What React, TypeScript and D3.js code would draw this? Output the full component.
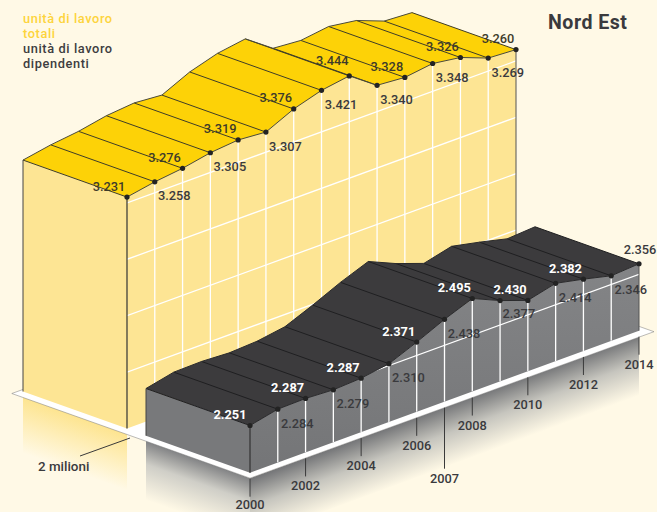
import React from "react";
import * as d3 from "d3";

const years = d3.range(2000, 2015);
const totalUnits = [3231, 3258, 3276, 3305, 3319, 3307, 3376, 3421, 3444, 3340, 3328, 3348, 3326, 3269, 3260];
const employeeUnits = [2251, 2284, 2287, 2279, 2287, 2310, 2371, 2438, 2495, 2430, 2377, 2414, 2382, 2346, 2356];
const tickYears = [2000, 2002, 2004, 2006, 2007, 2008, 2010, 2012, 2014];
const gridLevelsTotal = [2300, 2600, 2900, 3200];
const gridLevelsEmployee = [2300];
const legendLines = [
  { text: "unità di lavoro", color: "#fdd43c" },
  { text: "totali", color: "#fdd43c" },
  { text: "unità di lavoro", color: "#3d3d40" },
  { text: "dipendenti", color: "#3d3d40" },
];

const FONT = "Roboto, sans-serif";
const BG = "#fff9e6";
const INK = "#3a3a3d";

const xScale = d3.scaleLinear().domain([2000, 2014]).range([0, 389]);
const floorScale = d3.scaleLinear().domain([2000, 2014]).range([0, -142]);
const heightScale = d3.scaleLinear().domain([2000, 3500]).range([0, -282]);
const DEPTH: [number, number] = [-104, -37];

type P = [number, number];
const makeProject = (ox: number, oy: number) => (year: number, value: number, back = 0): P => [
  ox + xScale(year) + DEPTH[0] * back,
  oy + floorScale(year) + heightScale(value) + DEPTH[1] * back,
];
const projYellow = makeProject(127, 428.5);
const projDark = makeProject(250, 472.7);
const pts = (p: P[]) => p.map((q) => q.map((n) => n.toFixed(1)).join(",")).join(" ");
const lineGen = d3.line<P>();

const fmt = (v: number) => (v / 1000).toFixed(3);

function Block({
  id, values, project, top, side, front, gridLevels, lineColor, crossColor, labelColor, upperColor, upperWeight, offsets, plainUpper,
}: any) {
  const F = values.map((v: number, i: number) => project(years[i], v));
  const B = values.map((v: number, i: number) => project(years[i], v, 1));
  const b0 = project(2000, 2000);
  const b14 = project(2014, 2000);
  const bb = project(2000, 2000, 1);
  const facePoly: P[] = [...F, b14, b0];
  return (
    <g>
      <clipPath id={id}><polygon points={pts(facePoly)} /></clipPath>
      <polygon points={pts([B[0], F[0], b0, bb])} fill={front} />
      <polygon points={pts(facePoly)} fill={side} />
      <g clipPath={`url(#${id})`}>
        {gridLevels.map((g: number) => (
          <path key={g} d={lineGen([project(2000, g), project(2014, g)])!} stroke="#fff" strokeWidth={1.3} fill="none" />
        ))}
        {years.slice(1, -1).map((y) => (
          <path key={y} d={lineGen([project(y, 2000), project(y, 3600)])!} stroke="#fff" strokeWidth={1.3} fill="none" />
        ))}
      </g>
      <polygon points={pts([...F, ...[...B].reverse()])} fill={top} />
      {F.map((p: P, i: number) => (
        <path key={i} d={lineGen([p, B[i]])!} stroke={crossColor} strokeWidth={1} fill="none" />
      ))}
      <path d={lineGen(F)!} stroke={lineColor} strokeWidth={1} fill="none" />
      <path d={lineGen(B)!} stroke={lineColor} strokeWidth={1} fill="none" />
      <path d={lineGen([B[0], bb])!} stroke="#444" strokeWidth={1} fill="none" />
      <path d={lineGen([F[0], b0])!} stroke="#333" strokeWidth={1.2} fill="none" />
      <path d={lineGen([F[14], b14])!} stroke="#555" strokeWidth={1} fill="none" />
      {F.map((p: P, i: number) => (
        <circle key={i} cx={p[0]} cy={p[1]} r={2.6} fill="#232323" />
      ))}
      {F.map((p: P, i: number) => {
        const y = years[i];
        const o = offsets[y] || (y % 2 === 0 ? [-18, -6.5] : [19.5, 18.5]);
        const up = o[1] < 0 && !(plainUpper || []).includes(y);
        return (
          <text key={i} x={p[0] + o[0]} y={p[1] + o[1]} textAnchor="middle" fontFamily={FONT} fontSize={12.8}
            fontWeight={up ? upperWeight : 500} fill={up ? upperColor : labelColor}>
            {fmt(values[i])}
          </text>
        );
      })}
    </g>
  );
}

export default function App() {
  const W = 657, H = 512;
  const plateB: P = [250, 478.2];
  const plateA: P = [plateB[0] + DEPTH[0] * 2.29, plateB[1] + DEPTH[1] * 2.29];
  const plateC: P = [projDark(2014, 2000)[0] + 15, projDark(2014, 2000)[1] + 1];
  const plateD: P = [plateA[0] + plateC[0] - plateB[0], plateA[1] + plateC[1] - plateB[1]];
  const fade = 60;
  const yb = projYellow(2000, 2000, 1);
  const yf = projYellow(2000, 2000);
  const fadeY: P[] = [[yb[0], yb[1] + 4], [yf[0], yf[1] + 4], [yf[0], yf[1] + 4 + fade], [yb[0], yb[1] + 4 + fade]];
  const gL: P = [projDark(2000, 2000, 1)[0], projDark(2000, 2000, 1)[1] + 4];
  const fadeGrayL: P[] = [gL, plateB, [plateB[0], plateB[1] + fade], [gL[0], gL[1] + fade]];
  const fadeGrayR: P[] = [plateB, [projDark(2014, 2000)[0], projDark(2014, 2000)[1] + 6], [projDark(2014, 2000)[0], projDark(2014, 2000)[1] + 6 + fade], [plateB[0], plateB[1] + fade]];
  return (
    <svg width={W} height={H} viewBox={`0 0 ${W} ${H}`} style={{ position: "absolute", left: 0, top: 0, background: BG }}>
      <defs>
        <linearGradient id="fy" gradientUnits="userSpaceOnUse" x1={75} y1={412} x2={56} y2={465}>
          <stop offset="0" stopColor="#fde38a" />
          <stop offset="1" stopColor={BG} />
        </linearGradient>
        <linearGradient id="fgl" gradientUnits="userSpaceOnUse" x1={198} y1={459} x2={179} y2={512}>
          <stop offset="0" stopColor="#808183" />
          <stop offset="0.4" stopColor="#cfcec7" />
          <stop offset="1" stopColor={BG} />
        </linearGradient>
        <linearGradient id="fgr" gradientUnits="userSpaceOnUse" x1={444} y1={408} x2={463.5} y2={460.6}>
          <stop offset="0" stopColor="#77787a" />
          <stop offset="0.45" stopColor="#c6c5be" />
          <stop offset="1" stopColor={BG} />
        </linearGradient>
        <linearGradient id="side" gradientUnits="userSpaceOnUse" x1={0} y1={270} x2={0} y2={475}>
          <stop offset="0" stopColor="#838486" />
          <stop offset="1" stopColor="#747577" />
        </linearGradient>
      </defs>

      <polygon points={pts(fadeY)} fill="url(#fy)" />
      <polygon points={pts(fadeGrayL)} fill="url(#fgl)" />
      <polygon points={pts(fadeGrayR)} fill="url(#fgr)" />

      <polygon points={pts([plateA, plateB, plateC, plateD])} fill="#fff" stroke="#777" strokeWidth={0.5} />

      {tickYears.map((y) => {
        const b = projDark(y, 2000);
        const len = y === 2007 ? 61 : 18;
        return (
          <g key={y}>
            <path d={lineGen([[b[0], b[1] + 6], [b[0], b[1] + 6 + len]])!} stroke="#3a3a3a" strokeWidth={1} fill="none" />
            <text x={b[0]} y={Math.min(b[1] + 6 + len + 14, 508.5)} textAnchor="middle" fontFamily={FONT} fontSize={12.8} fontWeight={500} fill={INK}>{y}</text>
          </g>
        );
      })}

      <Block id="cy" values={totalUnits} project={projYellow} top="#fdd207" side="#fde594" front="#fde594"
        gridLevels={gridLevelsTotal} lineColor="#4a4a3a" crossColor="#3f3d28" labelColor={INK} upperColor="#3d3b2a" upperWeight={500}
        offsets={{ 2008: [-17, -11] }} />
      <Block id="cd" values={employeeUnits} project={projDark} top="#3c3b3d" side="url(#side)" front="#78797b"
        gridLevels={gridLevelsEmployee} lineColor="#2a2a2c" crossColor="#1f1f21" labelColor={INK} upperColor="#ffffff" upperWeight={700}
        offsets={{ 2000: [-20, -7], 2009: [10, -7], 2010: [-9, 18], 2014: [1, -10] }} plainUpper={[2014]} />

      <path d={lineGen([[80, 456], [130, 438]])!} stroke="#3a3a3a" strokeWidth={1} fill="none" />
      <text x={38} y={471} fontFamily={FONT} fontSize={13.4} fontWeight={500} fill={INK}>2 milioni</text>

      {legendLines.map((l, i) => (
        <text key={i} x={23} y={23 + i * 15} fontFamily={FONT} fontSize={12.8} letterSpacing={0.6} fontWeight={500} fill={l.color}>{l.text}</text>
      ))}
      <text x={548} y={29} fontFamily={FONT} fontSize={19.6} fontWeight={700} fill={INK} letterSpacing={0.5}>Nord Est</text>
    </svg>
  );
}
